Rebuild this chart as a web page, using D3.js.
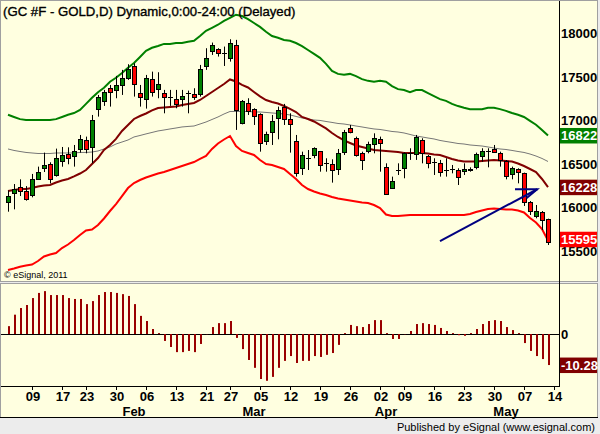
<!DOCTYPE html>
<html>
<head>
<meta charset="utf-8">
<script src="https://cdn.jsdelivr.net/npm/d3@7"></script>
<style>
  body { margin: 0; background: #ececec; }
  svg { display: block; font-family: "Liberation Sans", Arial, sans-serif; }
</style>
</head>
<body>
<svg width="600" height="434"></svg>
<script>
// daily OHLC, gold futures, bar index 0..90
var opens  = [16050,16157,16226,16184,16134,16325,16441,16494,16364,16529,16610,16586,16667,16767,16687,17123,17215,17365,17346,17407,17487,17618,17307,17238,17468,17353,17307,17269,17238,17238,17307,17300,17296,17614,17786,17813,17767,17710,17863,16962,17192,17123,17070,16751,16866,17020,17146,17008,16759,16445,16567,16590,16644,16510,16491,16437,16625,16905,16790,16617,16636,16721,16778,16456,16222,16425,16445,16617,16617,16771,16586,16521,16510,16425,16433,16425,16414,16425,16456,16587,16644,16663,16625,16533,16376,16433,16387,16061,15904,15942,15858];
var highs  = [16188,16264,16318,16240,16380,16464,16625,16514,16671,16690,16686,16713,16828,16809,17058,17288,17346,17403,17507,17576,17641,17652,17403,17518,17556,17549,17346,17346,17346,17346,17338,17365,17633,17825,17890,17825,17844,17928,17921,17230,17250,17135,17077,16866,17058,17154,17185,17077,16828,16636,16655,16686,16644,16560,16548,16667,16886,16943,16809,16636,16751,16847,16809,16502,16349,16502,16629,16675,16828,16790,16598,16560,16541,16560,16483,16445,16502,16456,16625,16675,16675,16713,16636,16540,16464,16445,16395,16069,16023,15954,15866];
var lows   = [15946,15973,16126,16073,16111,16310,16402,16272,16349,16463,16491,16464,16625,16617,16503,17039,17162,17154,17250,17288,17461,17269,17154,17131,17269,17250,17077,17162,17135,17154,17077,17231,17269,17576,17748,17729,17621,17671,16886,16950,17058,16943,16636,16713,16713,16778,16943,16625,16349,16368,16425,16560,16406,16406,16280,16368,16598,16847,16579,16425,16617,16617,16406,16138,16215,16368,16330,16541,16541,16502,16445,16368,16349,16349,16387,16253,16368,16406,16433,16521,16456,16625,16464,16318,16318,16272,16012,15908,15870,15735,15563];
var closes = [16123,16207,16180,16088,16318,16402,16479,16318,16560,16598,16560,16644,16778,16663,16997,17261,17319,17319,17403,17487,17591,17411,17258,17480,17323,17415,17261,17269,17185,17277,17307,17269,17583,17710,17859,17767,17767,17882,17116,17219,17104,17047,16732,16836,16993,17116,17008,16947,16387,16594,16567,16675,16483,16510,16425,16617,16859,16855,16598,16533,16721,16790,16732,16150,16299,16425,16617,16617,16809,16617,16502,16521,16406,16425,16433,16341,16437,16437,16606,16644,16644,16633,16548,16356,16445,16395,16050,15954,15958,15847,15595];

// envelope lines
var upperBand = [17060,17035,17010,17000,17000,17000,17000,17000,17010,17035,17060,17080,17115,17185,17255,17320,17370,17440,17485,17540,17600,17655,17725,17795,17830,17850,17875,17875,17885,17885,17900,17910,17965,18025,18060,18095,18140,18175,18210,18195,18160,18115,18070,18015,17965,17945,17920,17910,17885,17850,17805,17760,17715,17645,17565,17530,17520,17530,17505,17470,17450,17440,17450,17440,17390,17355,17345,17320,17345,17345,17310,17275,17240,17220,17185,17160,17140,17125,17125,17125,17140,17140,17125,17105,17080,17060,17035,16990,16945,16885,16822];
var midAvg = [16184,16196,16207,16207,16218,16236,16247,16253,16282,16305,16322,16351,16385,16425,16494,16563,16655,16713,16782,16874,16943,17012,17046,17075,17110,17138,17144,17150,17156,17173,17184,17196,17230,17276,17322,17368,17414,17466,17443,17403,17374,17322,17271,17230,17207,17190,17161,17127,17092,17035,17012,16983,16943,16903,16851,16805,16765,16736,16707,16690,16673,16655,16650,16644,16638,16632,16621,16621,16621,16621,16615,16604,16598,16575,16552,16535,16523,16523,16523,16529,16535,16540,16535,16529,16523,16500,16471,16437,16402,16322,16228];
var longAvg = [16667,16650,16638,16627,16621,16615,16615,16615,16621,16621,16621,16621,16627,16627,16632,16644,16667,16690,16724,16747,16770,16805,16822,16840,16857,16874,16885,16897,16908,16920,16926,16931,16954,16977,17006,17035,17069,17098,17098,17098,17098,17092,17092,17087,17081,17075,17069,17058,17041,17023,17012,17000,16995,16983,16972,16960,16954,16943,16931,16920,16908,16897,16891,16880,16868,16862,16851,16834,16816,16805,16793,16782,16765,16753,16742,16730,16724,16713,16707,16701,16690,16678,16667,16661,16650,16638,16627,16609,16586,16558,16523];
var lowerBand = [15276,15293,15313,15327,15339,15379,15431,15454,15471,15528,15569,15620,15678,15730,15741,15793,15868,15954,16034,16126,16218,16276,16310,16339,16362,16385,16402,16425,16448,16471,16494,16517,16552,16586,16667,16730,16776,16816,16701,16644,16621,16598,16540,16494,16483,16460,16437,16379,16322,16253,16207,16178,16155,16138,16115,16098,16086,16075,16063,16052,16046,16023,15988,15914,15896,15896,15902,15908,15908,15908,15908,15908,15908,15908,15908,15908,15908,15919,15942,15960,15977,15983,15977,15971,15971,15960,15937,15873,15822,15747,15615];

// oscillator histogram
var osc = [2.6,6.4,8.6,9.6,11.9,13.6,14.2,12.9,12.9,12.9,11.9,11.6,11.6,9.9,10.9,12.9,13.9,13.9,13.6,13.2,12.6,9.9,6.0,4.3,1.65,0.3,-2.3,-4.3,-6.0,-6.0,-5.6,-6.0,-3.3,-0.1,2.3,3.6,3.6,4.3,-1.3,-5.0,-8.6,-11.2,-14.9,-15.5,-14.2,-11.2,-8.9,-7.3,-9.6,-8.9,-8.9,-7.3,-7.6,-6.9,-6.3,-3.6,0.3,3.0,2.6,2.3,3.3,4.6,4.6,0.3,-1.65,-1.65,-0.1,1.0,3.3,3.6,3.3,3.0,2.0,1.0,0.3,-0.4,-0.6,0.3,1.65,3.3,4.3,4.6,4.3,2.3,1.3,0.3,-3.0,-5.6,-7.3,-8.3,-10.28];

var tickIdx    = [4,9,13,18,23,28,33,37,42,47,52,57,62,66,71,76,81,86,91];
var tickLabels = ["09","17","23","30","06","13","21","27","05","12","19","26","02","09","16","23","30","07","14"];
var monthIdx    = [21,41,63,83];
var monthLabels = ["Feb","Mar","Apr","May"];
var priceTicks = [15500,16000,16500,17000,17500,18000];

var svg = d3.select("svg");
var cream = "#ffffe0";

// frame
svg.append("rect").attr("x",0).attr("y",0).attr("width",600).attr("height",434).attr("fill","#ececec");
svg.append("rect").attr("x",0.5).attr("y",0.5).attr("width",597).attr("height",281)
  .attr("fill",cream).attr("stroke","#a0a0a0");
svg.append("rect").attr("x",0.5).attr("y",283.5).attr("width",597).attr("height",134)
  .attr("fill",cream).attr("stroke","#a0a0a0");
svg.append("line").attr("x1",0).attr("x2",598).attr("y1",417.5).attr("y2",417.5).attr("stroke","#000");

var x = d3.scaleLinear().domain([0,90]).range([8,548]);
var y = d3.scaleLinear().domain([15500,18000]).range([250.5,33]);
var yo = d3.scaleLinear().domain([-15,15]).range([379.3,288.7]);

var plotRight = 559;

// clip for price pane
svg.append("clipPath").attr("id","pclip").append("rect")
  .attr("x",1).attr("y",1).attr("width",plotRight-1).attr("height",280);
var pane = svg.append("g").attr("clip-path","url(#pclip)");

// right axis labels (behind value boxes)
var axisG = svg.append("g");
axisG.append("line").attr("x1",plotRight+0.5).attr("x2",plotRight+0.5).attr("y1",1).attr("y2",386)
  .attr("stroke","#000");
axisG.selectAll(".pt").data(priceTicks).enter().append("text")
  .attr("x",561).attr("y",function(d){ return y(d)+5; })
  .attr("font-size",13).attr("font-weight","bold").text(function(d){ return d; });

// lines
function lineOf(arr){
  return d3.line().x(function(d,i){ return x(i); }).y(function(d){ return y(d); })(arr);
}
pane.append("path").attr("d",lineOf(longAvg)).attr("fill","none").attr("stroke","#777").attr("stroke-width",1);
pane.append("path").attr("d",lineOf(upperBand)).attr("fill","none").attr("stroke","#008000").attr("stroke-width",2);
pane.append("path").attr("d",lineOf(lowerBand)).attr("fill","none").attr("stroke","#ff0000").attr("stroke-width",2);
pane.append("path").attr("d",lineOf(midAvg)).attr("fill","none").attr("stroke","#800000").attr("stroke-width",2);

// candles
var bars = d3.range(opens.length);
var cg = pane.selectAll(".candle").data(bars).enter().append("g");
cg.append("line")
  .attr("x1",function(i){ return Math.round(x(i))+0.5; })
  .attr("x2",function(i){ return Math.round(x(i))+0.5; })
  .attr("y1",function(i){ return y(highs[i]); })
  .attr("y2",function(i){ return y(lows[i]); })
  .attr("stroke","#000");
cg.each(function(i){
  var g = d3.select(this), cx = Math.round(x(i));
  if (opens[i] === closes[i]) {
    g.append("line").attr("x1",cx-2).attr("x2",cx+3)
      .attr("y1",Math.round(y(opens[i]))+0.5).attr("y2",Math.round(y(opens[i]))+0.5)
      .attr("stroke","#000");
  } else {
    var t = y(Math.max(opens[i],closes[i])), b = y(Math.min(opens[i],closes[i]));
    g.append("rect").attr("x",cx-1.5).attr("y",Math.round(t)+0.5)
      .attr("width",4).attr("height",Math.max(1,Math.round(b-t)))
      .attr("fill",closes[i] > opens[i] ? "#008000" : "#ff0000")
      .attr("stroke","#000");
  }
});

// arrow annotation
var arrow = [[72,15609],[88.2,16204]];
pane.append("path")
  .attr("d",d3.line().x(function(d){ return x(d[0]); }).y(function(d){ return y(d[1]); })(arrow))
  .attr("stroke","#000080").attr("stroke-width",2).attr("fill","none");
pane.append("path")
  .attr("d",d3.line().x(function(d){ return x(d[0]); }).y(function(d){ return y(d[1]); })
    ([[84.5,16204],[88.2,16204],[86.4,16100]]))
  .attr("stroke","#000080").attr("stroke-width",2).attr("fill","none");

// copyright
svg.append("text").attr("x",4).attr("y",278).attr("font-size",9).text("\u00a9 eSignal, 2011");

// title
svg.append("text").attr("x",3).attr("y",16).attr("font-size",13.2)
  .attr("stroke","#000").attr("stroke-width",0.35)
  .text("(GC #F - GOLD,D) Dynamic,0:00-24:00 (Delayed)");

// value boxes
function valueBox(v, scale, fill, label, dy){
  var cy = scale(v) + (dy || 0);
  svg.append("rect").attr("x",plotRight+1).attr("y",cy-7.5).attr("width",37).attr("height",15.5).attr("fill",fill);
  svg.append("text").attr("x",561).attr("y",cy+5).attr("font-size",13).attr("font-weight","bold")
    .attr("fill","#fff").text(label);
}
valueBox(upperBand[upperBand.length-1], y, "#008000", "16822");
valueBox(midAvg[midAvg.length-1], y, "#800000", "16228");
valueBox(closes[closes.length-1], y, "#ff0000", "15595", -3);

// oscillator pane
svg.append("line").attr("x1",1).attr("x2",plotRight).attr("y1",Math.round(yo(0))+0.5).attr("y2",Math.round(yo(0))+0.5).attr("stroke","#000");
svg.selectAll(".ob").data(osc).enter().append("rect")
  .attr("x",function(d,i){ return Math.round(x(i)); })
  .attr("width",2)
  .attr("y",function(d){ return Math.min(yo(d), yo(0)); })
  .attr("height",function(d){ return Math.abs(yo(d)-yo(0)); })
  .attr("fill","#990000");
svg.append("text").attr("x",561).attr("y",yo(0)+5).attr("font-size",13).attr("font-weight","bold").text("0");
valueBox(osc[osc.length-1], yo, "#800000", "-10.28");

// date axis
svg.append("line").attr("x1",1).attr("x2",plotRight+1).attr("y1",386.5).attr("y2",386.5).attr("stroke","#000");
svg.selectAll(".tk").data(tickIdx).enter().append("line")
  .attr("x1",function(d){ return Math.round(x(d))+0.5; })
  .attr("x2",function(d){ return Math.round(x(d))+0.5; })
  .attr("y1",386).attr("y2",390).attr("stroke","#000");
svg.selectAll(".tl").data(tickIdx).enter().append("text")
  .attr("x",function(d){ return x(d)+1; }).attr("y",401)
  .attr("text-anchor","middle").attr("font-size",13).attr("font-weight","bold")
  .text(function(d,i){ return tickLabels[i]; });
svg.selectAll(".ml").data(monthIdx).enter().append("text")
  .attr("x",function(d){ return x(d); }).attr("y",416)
  .attr("text-anchor","middle").attr("font-size",13).attr("font-weight","bold")
  .text(function(d,i){ return monthLabels[i]; });

// footer
svg.append("text").attr("x",595).attr("y",431).attr("text-anchor","end").attr("font-size",11)
  .text("Published by eSignal (www.esignal.com)");
</script>
</body>
</html>
